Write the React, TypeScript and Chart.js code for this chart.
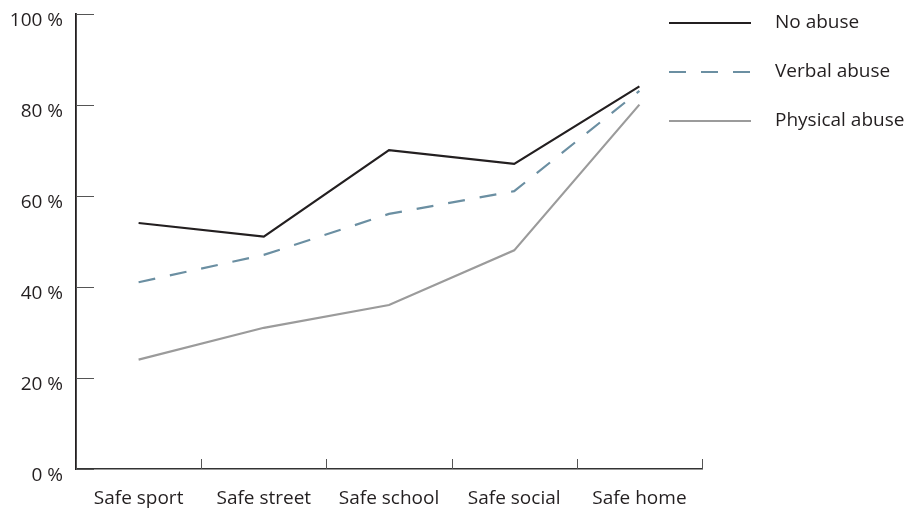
import React, { useEffect, useRef } from "react";
import { Chart, registerables } from "chart.js";

Chart.register(...registerables);

const categories = ["Safe sport", "Safe street", "Safe school", "Safe social", "Safe home"];
const noAbuse = [54, 51, 70, 67, 84];
const verbalAbuse = [41, 47, 56, 61, 83];
const physicalAbuse = [24, 31, 36, 48, 80];
const yTicks = [0, 20, 40, 60, 80, 100];

const FONT = "'Open Sans', 'Noto Sans', sans-serif";
const TEXT = "#231f20";
const FS = 19;

const tickPlugin = {
  id: "innerTicks",
  afterDraw(chart: any) {
    const { ctx, chartArea, scales } = chart;
    const x = scales.x;
    const y = scales.y;
    ctx.save();
    ctx.strokeStyle = "#555";
    ctx.lineWidth = 1;
    yTicks.forEach((v) => {
      const py = Math.round(y.getPixelForValue(v)) + 0.5;
      ctx.beginPath();
      ctx.moveTo(chartArea.left, py);
      ctx.lineTo(chartArea.left + 18, py);
      ctx.stroke();
    });
    for (let i = 0; i <= categories.length; i++) {
      const px = Math.round(x.getPixelForValue(i - 0.5)) + 0.5;
      ctx.beginPath();
      ctx.moveTo(px, chartArea.bottom);
      ctx.lineTo(px, chartArea.bottom - 10);
      ctx.stroke();
    }
    // legend
    const items = chart.data.datasets;
    const ys = [23, 72, 121];
    ctx.font = `${FS}px ${FONT}`;
    ctx.textBaseline = "middle";
    ctx.textAlign = "left";
    items.forEach((ds: any, i: number) => {
      ctx.beginPath();
      ctx.strokeStyle = ds.borderColor;
      ctx.lineWidth = ds.borderWidth;
      ctx.setLineDash(ds.borderDash || []);
      ctx.moveTo(669, ys[i]);
      ctx.lineTo(751, ys[i]);
      ctx.stroke();
      ctx.setLineDash([]);
      ctx.fillStyle = TEXT;
      ctx.fillText(ds.label, 775, ys[i]);
    });
    ctx.restore();
  },
};

export default function App() {
  const ref = useRef<HTMLCanvasElement>(null);
  useEffect(() => {
    const chart = new Chart(ref.current!, {
      type: "line",
      data: {
        labels: categories,
        datasets: [
          { label: "No abuse", data: noAbuse, borderColor: "#231f20", borderWidth: 2.2, pointRadius: 0, tension: 0 },
          { label: "Verbal abuse", data: verbalAbuse, borderColor: "#6b8fa2", borderWidth: 2.2, borderDash: [17, 15], pointRadius: 0, tension: 0 },
          { label: "Physical abuse", data: physicalAbuse, borderColor: "#9b9b9b", borderWidth: 2.2, pointRadius: 0, tension: 0 },
        ],
      },
      options: {
        animation: false,
        responsive: false,
        layout: { padding: { top: 13.5, right: 202, left: 0, bottom: 0 } },
        plugins: { legend: { display: false }, tooltip: { enabled: false } },
        scales: {
          x: {
            offset: true,
            grid: { display: false, drawTicks: false },
            border: { display: true, color: "#333", width: 1.5 },
            ticks: { color: TEXT, font: { family: FONT, size: FS }, padding: 18, maxRotation: 0 },
            afterFit(scale: any) { scale.height = 40; scale.paddingLeft = 0; scale.paddingRight = 0; },
          },
          y: {
            min: 0,
            max: 100,
            afterBuildTicks(scale: any) { scale.ticks = yTicks.map((v) => ({ value: v })); },
            grid: { display: false, drawTicks: false },
            border: { display: true, color: "#231f20", width: 1.8 },
            ticks: { color: TEXT, font: { family: FONT, size: FS }, padding: 13, labelOffset: 7, callback: (v: any) => `${v} %` },
            afterFit(scale: any) { scale.width = 76; scale.paddingTop = 0; scale.paddingBottom = 0; },
          },
        },
      },
      plugins: [tickPlugin],
    });
    return () => chart.destroy();
  }, []);
  return (
    <div style={{ position: "fixed", left: 0, top: 0, width: 904, height: 509, background: "#fff" }}>
      <canvas ref={ref} width={904} height={509} style={{ display: "block" }} />
    </div>
  );
}
